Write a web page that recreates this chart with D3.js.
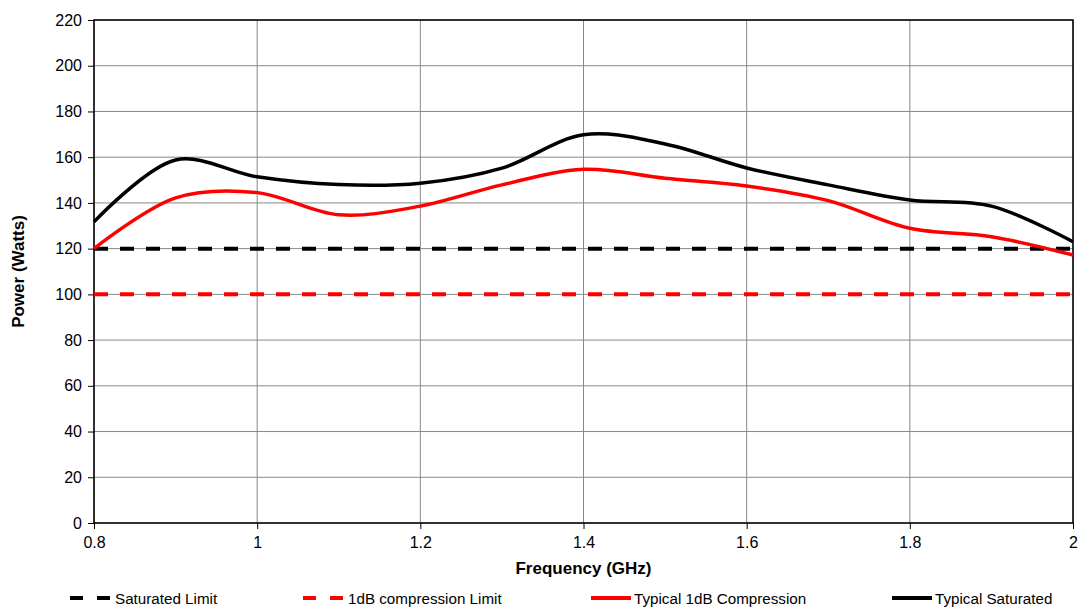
<!DOCTYPE html>
<html lang="en">
<head>
<meta charset="utf-8">
<title>Power vs Frequency</title>
<script src="https://cdn.jsdelivr.net/npm/d3@7"></script>
<style>
  body { margin: 0; background: #fff; }
  text { font-family: "Liberation Sans", Arial, sans-serif; }
  .axis text { font-size: 16px; fill: #000; }
  .axis path, .axis line { stroke: #000; }
  .grid line { stroke: #888; stroke-width: 1; }
</style>
</head>
<body>
<script>
// data
var freq = [0.8, 0.9, 1.0, 1.1, 1.2, 1.3, 1.4, 1.5, 1.6, 1.7, 1.8, 1.9, 2.0];
var typSaturated = [131.7, 158.8, 151.4, 148.0, 148.6, 155.2, 169.8, 165.8, 155.3, 147.9, 141.3, 138.6, 123];
var typCompression = [120, 142.2, 144.5, 134.8, 138.6, 147.9, 154.7, 150.8, 147.4, 141, 128.9, 125.2, 117.2];
var satLimit = 120;
var compLimit = 100;
var xTicks = [0.8, 1, 1.2, 1.4, 1.6, 1.8, 2];
var yTicks = d3.range(0, 221, 20);
var legendNames = ["Saturated Limit", "1dB compression Limit", "Typical 1dB Compression", "Typical Saturated"];

var margin = {top: 20, right: 5, bottom: 85, left: 94},
    width = 1078 - margin.left - margin.right,
    height = 608 - margin.top - margin.bottom;

var x = d3.scaleLinear().domain([0.8, 2]).range([0, width]);
var y = d3.scaleLinear().domain([0, 220]).range([height, 0]);

var svg = d3.select("body").append("svg")
    .attr("width", 1078)
    .attr("height", 608);
var g = svg.append("g")
    .attr("transform", "translate(" + margin.left + "," + margin.top + ")");

// gridlines
g.append("g").attr("class", "grid")
  .selectAll("line").data(yTicks).enter().append("line")
    .attr("x1", 0).attr("x2", width)
    .attr("y1", function(d) { return y(d); })
    .attr("y2", function(d) { return y(d); });
g.append("g").attr("class", "grid")
  .selectAll("line").data(xTicks).enter().append("line")
    .attr("y1", 0).attr("y2", height)
    .attr("x1", function(d) { return x(d); })
    .attr("x2", function(d) { return x(d); });

// axes
g.append("g")
    .attr("class", "axis")
    .attr("transform", "translate(0," + height + ")")
    .call(d3.axisBottom(x).tickValues(xTicks).tickSize(6).tickPadding(8)
      .tickFormat(function(d) { return d3.format("")(d); }));
g.append("g")
    .attr("class", "axis")
    .call(d3.axisLeft(y).tickValues(yTicks).tickSize(6).tickPadding(6));

g.selectAll(".axis .domain").remove();
g.append("rect")
    .attr("width", width).attr("height", height)
    .attr("fill", "none").attr("stroke", "#000").attr("stroke-width", 1.5);

// limit lines
g.append("line")
    .attr("x1", 0).attr("x2", width)
    .attr("y1", y(satLimit)).attr("y2", y(satLimit))
    .attr("stroke", "#000").attr("stroke-width", 4)
    .attr("stroke-dasharray", "14,12");
g.append("line")
    .attr("x1", 0).attr("x2", width)
    .attr("y1", y(compLimit)).attr("y2", y(compLimit))
    .attr("stroke", "#ff0000").attr("stroke-width", 4)
    .attr("stroke-dasharray", "14,12");

var line = d3.line()
    .x(function(d, i) { return x(freq[i]); })
    .y(function(d) { return y(d); })
    .curve(d3.curveCatmullRom.alpha(0.5));

g.append("path").datum(typCompression)
    .attr("fill", "none").attr("stroke", "#ff0000").attr("stroke-width", 3.5)
    .attr("d", line);
g.append("path").datum(typSaturated)
    .attr("fill", "none").attr("stroke", "#000").attr("stroke-width", 3.5)
    .attr("d", line);

// axis titles
svg.append("text")
    .attr("x", margin.left + width / 2).attr("y", 574)
    .attr("text-anchor", "middle")
    .style("font-size", "17px").style("font-weight", "bold")
    .text("Frequency (GHz)");
svg.append("text")
    .attr("transform", "translate(24," + (margin.top + height / 2) + ") rotate(-90)")
    .attr("text-anchor", "middle")
    .style("font-size", "17px").style("font-weight", "bold")
    .text("Power (Watts)");

// legend
var legendStyle = [
  {color: "#000", dash: "13,14", x: 70},
  {color: "#ff0000", dash: "13,14", x: 303},
  {color: "#ff0000", dash: null, x: 591},
  {color: "#000", dash: null, x: 892}
];
var leg = svg.append("g").attr("transform", "translate(0,598)");
leg.selectAll("line").data(legendStyle).enter().append("line")
    .attr("x1", function(d) { return d.x; })
    .attr("x2", function(d) { return d.x + 40; })
    .attr("y1", 0).attr("y2", 0)
    .attr("stroke", function(d) { return d.color; })
    .attr("stroke-width", 4)
    .attr("stroke-dasharray", function(d) { return d.dash; });
leg.selectAll("text").data(legendStyle).enter().append("text")
    .attr("x", function(d) { return d.x + (d.dash ? 45 : 43); })
    .attr("y", 5.5)
    .style("font-size", "15.2px")
    .text(function(d, i) { return legendNames[i]; });
</script>
</body>
</html>
